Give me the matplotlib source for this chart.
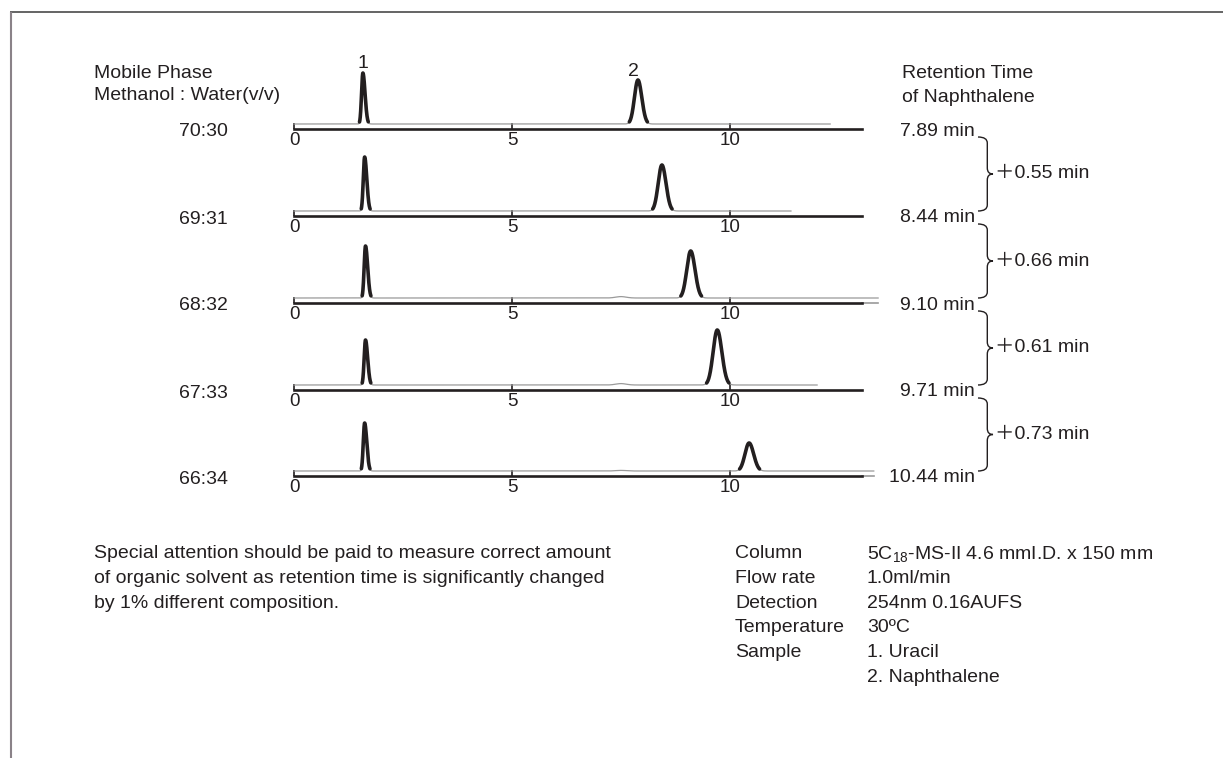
import numpy as np
import matplotlib
matplotlib.use("Agg")
import matplotlib.pyplot as plt
from matplotlib.path import Path
from matplotlib.patches import PathPatch

plt.rcParams['font.family'] = ['Liberation Sans', 'Noto Sans CJK JP', 'DejaVu Sans']
plt.rcParams['mathtext.fontset'] = 'custom'
plt.rcParams['mathtext.rm'] = 'Liberation Sans'
plt.rcParams['mathtext.it'] = 'Liberation Sans:italic'
plt.rcParams['mathtext.bf'] = 'Liberation Sans:bold'

# ---------------- data ----------------
mobile_phase = ["70:30", "69:31", "68:32", "67:33", "66:34"]
rt_naphthalene = [7.89, 8.44, 9.10, 9.71, 10.44]        # min
rt_uracil = [1.58, 1.62, 1.64, 1.64, 1.62]              # min
h_uracil = [51, 54, 52, 45, 48]                         # detector response (arb.)
h_naphthalene = [44, 46, 47, 55, 28]
sd_naphthalene = [0.080, 0.085, 0.090, 0.095, 0.095]    # peak width (min)
sd_uracil = [0.038, 0.038, 0.038, 0.038, 0.038]
bump_pos = [7.5, 7.5, 7.5, 7.5, 7.5]                    # tiny baseline disturbance
bump_h = [0.0, 0.0, 1.4, 1.4, 0.6]
record_end = [12.3, 11.4, 13.4, 12.0, 13.3]             # end of recorded trace (min)
x_ticks = [0, 5, 10]
x_max = 13.03

conditions = [("Column", r"5C$_{\mathrm{18}}$-MS-II 4.6 mmI.D. x 150 mm"),
              ("Flow rate", "1.0ml/min"),
              ("Detection", "254nm 0.16AUFS"),
              ("Temperature", "30\u00baC"),
              ("Sample", "1. Uracil"),
              ("", "2. Naphthalene")]
note_lines = ["Special attention should be paid to measure correct amount",
              "of organic solvent as retention time is significantly changed",
              "by 1% different composition."]

# ---------------- layout ----------------
W, H = 1223, 758
fig = plt.figure(figsize=(W / 100, H / 100), dpi=100)
TXT = '#231f20'
FS = 14

axis_y = [129, 216, 303, 390, 476]   # pixel rows of time axes
ax_left, ax_width = 294, 568
ax_h = 70


def asym_gauss(x, mu, h, s_l, s_r):
    s = np.where(x < mu, s_l, s_r)
    return h * np.exp(-0.5 * ((x - mu) / s) ** 2)


row_axes = []
for i in range(5):
    ax = fig.add_axes([ax_left / W, 1 - axis_y[i] / H, ax_width / W, ax_h / H])
    ax.set_xlim(0, x_max)
    ax.set_ylim(-5, 65)
    ax.patch.set_alpha(0)
    for s in ('left', 'right', 'top'):
        ax.spines[s].set_visible(False)
    ax.spines['bottom'].set_linewidth(1.9)
    ax.spines['bottom'].set_color(TXT)
    ax.set_yticks([])
    ax.set_xticks(x_ticks)
    ax.set_xticklabels([str(t) for t in x_ticks])
    ax.tick_params(axis='x', direction='in', length=4, width=1.2, pad=2.5,
                   labelsize=13.5, color=TXT, labelcolor=TXT)

    x = np.linspace(0, record_end[i], 6000)
    y = (asym_gauss(x, rt_uracil[i], h_uracil[i], sd_uracil[i] * 0.8, sd_uracil[i] * 1.3)
         + asym_gauss(x, rt_naphthalene[i], h_naphthalene[i], sd_naphthalene[i], sd_naphthalene[i] * 1.1)
         + asym_gauss(x, bump_pos[i], bump_h[i], 0.12, 0.12))
    ax.plot(x, y, color='#9a9a9a', lw=0.9, clip_on=False, zorder=2)
    yb = np.where(y > 2.0, y, np.nan)
    ax.plot(x, yb, color=TXT, lw=2.6, clip_on=False, zorder=3,
            solid_joinstyle='round', solid_capstyle='round')
    if record_end[i] > x_max:
        ax.plot([x_max, record_end[i]], [-5, -5], color='#9a9a9a', lw=1.2, clip_on=False)
    row_axes.append(ax)

# peak numbers above first chromatogram
row_axes[0].text(rt_uracil[0], h_uracil[0] + 9, "1", ha='center', va='center',
                 fontsize=FS, color=TXT, clip_on=False)
row_axes[0].text(rt_naphthalene[0] - 0.1, h_naphthalene[0] + 9, "2", ha='center', va='center',
                 fontsize=FS, color=TXT, clip_on=False)

# ---------------- overlay for annotations ----------------
ov = fig.add_axes([0, 0, 1, 1], zorder=10)
ov.set_xlim(0, W)
ov.set_ylim(H, 0)
ov.axis('off')
ov.patch.set_alpha(0)

# frame
ov.plot([10, W], [12, 12], color='#3a3a3a', lw=1.1, solid_capstyle='butt')
ov.plot([11, 11], [12, H], color='#8a8288', lw=1.5, solid_capstyle='butt')

ov.text(94, 73, "Mobile Phase", ha='left', va='center', fontsize=FS, color=TXT)
ov.text(94, 96, "Methanol : Water(v/v)", ha='left', va='center', fontsize=FS, color=TXT)
ov.text(902, 73, "Retention Time", ha='left', va='center', fontsize=FS, color=TXT)
ov.text(902, 97, "of Naphthalene", ha='left', va='center', fontsize=FS, color=TXT)

for i in range(5):
    ov.text(228, axis_y[i] + 3, mobile_phase[i], ha='right', va='center', fontsize=FS, color=TXT)
    ov.text(975, axis_y[i] + 2, f"{rt_naphthalene[i]:.2f} min", ha='right', va='center',
            fontsize=FS, color=TXT)


def brace(x0, yt, yb, w=15, r=6):
    xm = x0 + w * 0.62
    xt = x0 + w
    mid = (yt + yb) / 2
    verts = [(x0, yt), (xm, yt), (xm, yt + r),
             (xm, mid - r), (xm, mid), (xt, mid),
             (xm, mid), (xm, mid + r),
             (xm, yb - r), (xm, yb), (x0, yb)]
    codes = [Path.MOVETO, Path.CURVE3, Path.CURVE3,
             Path.LINETO, Path.CURVE3, Path.CURVE3,
             Path.CURVE3, Path.CURVE3,
             Path.LINETO, Path.CURVE3, Path.CURVE3]
    ov.add_patch(PathPatch(Path(verts, codes), fill=False, edgecolor=TXT, lw=1.0))


for i in range(4):
    yt = axis_y[i] + 8
    yb = axis_y[i + 1] - 5
    brace(978, yt, yb)
    diff = rt_naphthalene[i + 1] - rt_naphthalene[i]
    ov.text(995, (yt + yb) / 2, f"\uff0b{diff:.2f} min", ha='left', va='center',
            fontsize=FS, color=TXT)

for j, line in enumerate(note_lines):
    ov.text(94, 554 + j * 24.5, line, ha='left', va='center', fontsize=FS, color=TXT)

for j, (k, v) in enumerate(conditions):
    yy = 554 + j * 24.6
    if k:
        ov.text(735, yy, k, ha='left', va='center', fontsize=FS, color=TXT)
    ov.text(867, yy, v, ha='left', va='center', fontsize=FS, color=TXT)

fig.savefig("out.png", dpi=100)
